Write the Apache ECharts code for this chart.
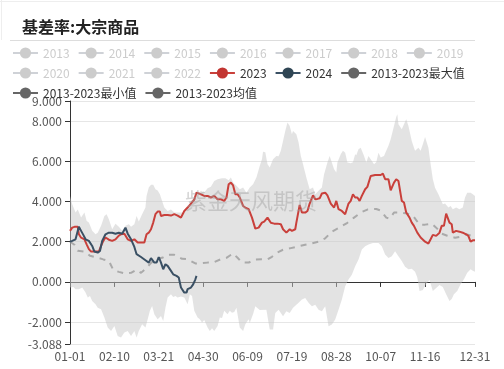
<!DOCTYPE html>
<html><head><meta charset="utf-8">
<script src="https://cdn.jsdelivr.net/npm/echarts@6/dist/echarts.min.js"></script>
<style>html,body{margin:0;padding:0;background:#fff}#c{width:504px;height:369px}</style>
</head><body><div id="c"></div>
<script>
// ---- categories (leap-year calendar, MM-DD) ----
const monthDays = [31,29,31,30,31,30,31,31,30,31,30,31];
const categories = [];
for (let m = 0; m < 12; m++) for (let d = 1; d <= monthDays[m]; d++)
  categories.push(String(m + 1).padStart(2, '0') + '-' + String(d).padStart(2, '0'));

const hiddenYears = ['2013','2014','2015','2016','2017','2018','2019','2020','2021','2022'];
const yAxisMin = -3.088, yAxisMax = 9;

// ---- series values: [dayIndex, value] ----
const s2023 = [[0,2.54],[2,2.7],[4,2.74],[7,2.74],[8,2.37],[10,2.2],[13,2.12],[15,1.87],[17,1.63],[19,1.51],[26,1.51],[28,1.8],[30,2.04],[32,2.21],[35,2.1],[38,2.04],[41,2.12],[44,2.3],[46,2.37],[49,2.4],[52,2.12],[55,2.04],[58,2.12],[61,1.96],[67,1.96],[69,2.37],[71,2.45],[73,2.62],[75,2.95],[77,3.37],[79,3.5],[81,3.5],[82,3.28],[85,3.33],[88,3.33],[91,3.3],[94,3.37],[97,3.3],[100,3.2],[103,3.53],[106,3.7],[109,3.9],[112,4.1],[114,4.44],[115,4.53],[118,4.36],[121,4.28],[124,4.28],[127,4.2],[130,4.28],[133,4.11],[136,4.11],[139,4.03],[141,4.2],[143,4.86],[145,4.94],[147,4.8],[149,4.36],[151,4.36],[153,4.2],[156,3.78],[158,3.7],[161,3.62],[164,3.2],[167,2.65],[170,2.7],[173,2.95],[175,3.0],[178,3.2],[181,2.94],[184,2.9],[187,2.9],[190,2.87],[192,2.62],[195,2.45],[198,2.62],[200,2.54],[203,2.62],[204,2.95],[207,3.83],[209,3.45],[212,3.45],[214,3.53],[216,3.9],[219,4.31],[221,4.11],[223,4.13],[225,4.16],[227,4.4],[230,4.44],[232,4.3],[235,3.9],[238,3.7],[240,4.03],[242,3.62],[245,3.53],[248,3.37],[251,3.9],[253,4.03],[255,4.36],[257,4.2],[259,4.2],[261,4.03],[263,4.28],[266,4.61],[268,4.73],[271,5.27],[275,5.32],[280,5.32],[282,5.39],[284,5.11],[287,5.11],[289,4.56],[292,4.94],[294,5.11],[296,5.02],[299,4.03],[301,3.95],[303,3.45],[306,3.2],[308,2.95],[310,2.79],[313,2.45],[316,2.21],[320,2.0],[323,1.91],[325,2.12],[327,2.34],[330,2.29],[333,2.45],[335,2.79],[337,2.79],[339,3.4],[342,2.95],[344,2.87],[345,2.45],[348,2.54],[351,2.5],[354,2.45],[357,2.37],[359,2.29],[361,2.0],[363,2.07],[365,2.07]];

const s2024 = [[0,2.0],[2,2.04],[5,2.12],[7,2.54],[8,2.74],[10,2.54],[12,2.34],[14,2.12],[17,2.04],[20,1.79],[22,1.51],[25,1.46],[27,1.54],[29,2.04],[32,2.37],[35,2.45],[38,2.45],[41,2.4],[44,2.45],[47,2.4],[50,2.7],[52,2.4],[55,2.12],[58,1.74],[60,1.38],[64,1.24],[68,1.08],[71,0.96],[73,1.18],[76,0.96],[78,0.96],[80,1.24],[82,0.96],[84,0.63],[86,0.88],[88,0.8],[91,0.55],[93,0.38],[96,0.3],[98,0.22],[100,-0.28],[103,-0.53],[105,-0.53],[106,-0.36],[109,-0.28],[111,-0.12],[113,0.13],[114,0.3]];

const sMean = [[0,2.0],[4,1.85],[7,1.55],[14,1.5],[18,1.3],[24,1.22],[30,1.12],[35,1.05],[39,0.6],[44,0.5],[50,0.42],[55,0.45],[60,0.6],[64,0.45],[69,0.7],[73,0.95],[78,1.15],[83,1.2],[88,1.35],[94,1.35],[101,1.15],[106,1.13],[113,0.92],[117,0.92],[124,0.96],[129,0.96],[136,1.13],[141,1.2],[147,1.42],[151,1.2],[155,0.96],[161,0.96],[167,1.12],[173,1.13],[178,1.12],[182,1.25],[187,1.47],[192,1.6],[198,1.67],[206,1.77],[212,1.85],[218,1.92],[224,2.0],[230,2.17],[236,2.5],[242,2.68],[250,2.94],[256,3.2],[262,3.45],[268,3.6],[276,3.63],[280,3.55],[285,3.2],[288,3.15],[292,3.45],[298,3.45],[304,3.4],[309,3.3],[315,2.85],[320,2.85],[326,2.9],[330,2.7],[335,2.4],[340,2.3],[347,2.2],[352,2.25],[357,2.37],[362,2.3],[365,2.2]];

const sMax = [[0,4.28],[2,3.86],[5,3.45],[7,3.6],[10,3.2],[13,3.45],[15,3.03],[17,2.95],[20,2.54],[23,2.37],[25,2.45],[28,2.79],[31,3.28],[33,3.37],[35,3.12],[38,2.62],[41,2.9],[44,2.75],[47,2.54],[50,2.79],[53,2.87],[55,2.74],[58,2.87],[60,3.28],[62,3.0],[65,3.37],[68,3.7],[69,4.28],[71,4.7],[73,4.83],[75,4.83],[77,4.61],[79,4.55],[81,4.36],[83,4.03],[85,3.7],[88,3.53],[91,3.6],[94,3.45],[100,3.45],[103,3.45],[106,3.7],[109,3.95],[112,4.2],[115,4.36],[118,4.53],[121,4.45],[124,4.66],[127,4.73],[130,5.02],[133,5.11],[137,5.16],[140,5.16],[143,5.06],[145,5.19],[147,4.94],[150,4.78],[153,4.61],[156,4.7],[159,4.44],[162,4.7],[165,4.86],[168,5.19],[171,5.77],[173,6.1],[174,6.48],[176,6.45],[178,5.85],[180,5.69],[183,6.1],[186,6.27],[188,6.25],[190,6.52],[192,7.01],[194,7.51],[196,7.93],[198,7.76],[200,7.35],[201,7.51],[204,7.35],[206,6.93],[208,6.27],[210,5.85],[213,5.19],[216,4.61],[219,4.7],[221,4.36],[224,4.53],[227,4.7],[229,5.36],[232,5.94],[234,6.27],[235,6.1],[238,5.6],[240,5.44],[241,5.94],[244,6.35],[246,6.52],[248,6.43],[250,5.94],[253,5.9],[255,5.95],[257,6.35],[258,6.3],[260,6.6],[262,6.68],[265,6.27],[267,5.94],[269,6.27],[271,6.1],[274,5.85],[276,5.95],[278,6.43],[280,6.19],[283,6.27],[285,6.52],[287,6.77],[289,7.1],[292,7.76],[294,8.2],[295,8.34],[296,7.84],[299,7.6],[301,7.84],[303,8.09],[305,7.76],[308,7.01],[310,6.68],[311,6.52],[314,6.68],[316,6.52],[318,6.85],[320,7.21],[323,6.68],[325,5.85],[327,5.11],[329,4.69],[332,4.36],[334,4.11],[336,3.86],[338,3.9],[341,3.7],[343,3.78],[345,3.62],[348,3.7],[351,3.62],[354,3.7],[356,4.2],[358,4.44],[361,4.44],[363,4.36],[365,4.28]];

const sMin = [[0,-0.28],[3,-0.25],[5,-0.36],[8,-0.36],[11,-0.28],[14,-0.53],[16,-0.78],[18,-0.7],[20,-0.95],[23,-1.11],[25,-1.28],[28,-1.36],[31,-1.77],[34,-2.27],[37,-2.44],[40,-2.19],[43,-2.69],[46,-2.77],[49,-2.52],[52,-2.44],[55,-2.69],[58,-2.44],[60,-2.77],[62,-2.44],[65,-2.11],[68,-2.27],[70,-1.86],[72,-1.44],[74,-1.2],[76,-1.61],[79,-1.86],[82,-1.69],[84,-1.94],[86,-1.28],[88,-0.78],[91,-0.61],[93,-0.75],[95,-0.7],[97,-0.78],[100,-0.72],[103,-0.78],[106,-1.11],[108,-0.61],[110,-0.7],[112,-1.44],[115,-1.77],[117,-1.86],[119,-2.02],[121,-1.9],[124,-2.27],[126,-2.44],[128,-2.3],[130,-2.44],[133,-2.19],[135,-1.77],[137,-1.8],[139,-1.44],[142,-1.61],[144,-1.44],[146,-1.53],[148,-1.5],[150,-1.28],[153,-2.27],[156,-2.44],[158,-2.11],[161,-1.86],[162,-2.04],[165,-1.6],[167,-1.21],[171,-1.4],[177,-1.38],[180,-2.37],[183,-2.37],[185,-1.54],[188,-1.38],[192,-1.71],[195,-1.46],[198,-1.54],[201,-1.29],[206,-1.04],[209,-0.88],[212,-0.8],[215,-1.04],[218,-1.21],[221,-1.13],[224,-1.38],[227,-1.46],[230,-1.21],[233,-2.2],[236,-2.12],[239,-1.87],[242,-1.38],[245,-0.88],[248,-0.22],[251,0.12],[254,0.36],[257,0.78],[260,1.11],[263,1.61],[266,1.77],[269,1.86],[273,1.94],[278,1.94],[281,1.77],[284,1.36],[287,1.19],[290,1.28],[293,1.53],[296,1.28],[299,1.04],[302,0.75],[305,0.63],[308,0.65],[311,0.5],[313,0.22],[315,-0.45],[318,-0.4],[321,-0.1],[324,0.1],[327,-0.45],[330,-0.3],[333,-0.15],[336,-0.25],[339,-0.61],[342,-0.95],[344,-0.85],[346,-0.61],[349,-0.45],[352,-0.12],[355,0.13],[358,0.46],[361,0.63],[363,0.55],[365,0.5]];

const NAME_MAX = '2013-2023最大值', NAME_MIN = '2013-2023最小值', NAME_MEAN = '2013-2023均值';
const FONT = "'Noto Sans CJK SC', 'Microsoft YaHei', sans-serif";

const labelShown = (i) => (i % 40 === 0 && i <= 320) || i === categories.length - 1;

const chart = echarts.init(document.getElementById('c'), null, {renderer: 'canvas'});

const series = [];
series.push({
  type: 'custom', name: 'band', xAxisIndex: 0, yAxisIndex: 0, silent: true, z: 1,
  data: [[0, 0]],
  renderItem: function (params, api) {
    const pts = [];
    for (let i = 0; i < sMax.length; i++) pts.push(api.coord(sMax[i]));
    for (let i = sMin.length - 1; i >= 0; i--) pts.push(api.coord(sMin[i]));
    return { type: 'polygon', shape: { points: pts }, style: { fill: 'rgba(200,200,200,0.5)' } };
  }
});
hiddenYears.forEach(y => series.push({ type: 'line', name: y, data: [], symbol: 'circle', showSymbol: false }));
series.push({ type: 'line', name: '2023', data: s2023, symbol: 'circle', showSymbol: false, z: 4,
  itemStyle: {color: '#c23531'}, lineStyle: {color: '#c9403b', width: 2} });
series.push({ type: 'line', name: '2024', data: s2024, symbol: 'circle', showSymbol: false, z: 5,
  itemStyle: {color: '#2f4554'}, lineStyle: {color: '#3a5064', width: 2} });
series.push({ type: 'line', name: NAME_MAX, data: sMax, symbol: 'circle', showSymbol: false, silent: true,
  itemStyle: {color: '#666'}, lineStyle: {color: '#666', width: 2, opacity: 0} });
series.push({ type: 'line', name: NAME_MIN, data: sMin, symbol: 'circle', showSymbol: false, silent: true,
  itemStyle: {color: '#666'}, lineStyle: {color: '#666', width: 2, opacity: 0} });
series.push({ type: 'line', name: NAME_MEAN, data: sMean, symbol: 'circle', showSymbol: false, z: 3,
  itemStyle: {color: '#666'}, lineStyle: {color: '#aaa', width: 2, type: [6, 6]} });

const legendData = hiddenYears.map(n => ({name: n}))
  .concat([{name: '2023'}, {name: '2024'}])
  .concat([NAME_MAX, NAME_MIN, NAME_MEAN].map(n => ({
    name: n, itemStyle: {color: '#666', opacity: 1},
    lineStyle: {color: '#666', opacity: 1, width: 2, type: 'solid'}
  })));
const selected = {};
hiddenYears.forEach(y => selected[y] = false);

chart.setOption({
  animation: false,
  backgroundColor: '#fff',
  title: {
    text: '基差率:大宗商品', left: 17, top: 14,
    textStyle: {fontSize: 16, fontWeight: 'bold', color: '#222', fontFamily: FONT}
  },
  legend: {
    left: 7, top: 42, right: 0,
    itemWidth: 25, itemHeight: 14, itemGap: 8,
    textStyle: {fontSize: 12, color: '#333', fontFamily: FONT, padding: [0, 4, 0, 0]},
    inactiveColor: '#ccc',
    data: legendData, selected: selected
  },
  grid: {left: 70, right: 29, top: 101, bottom: 25, containLabel: false},
  xAxis: [{
    type: 'category', data: categories, boundaryGap: false, position: 'top',
    axisLine: {onZero: true, lineStyle: {color: '#333'}},
    axisTick: {inside: true, length: 5, interval: labelShown, lineStyle: {color: '#333'}},
    axisLabel: {show: false}, splitLine: {show: false}
  }, {
    type: 'category', data: categories, boundaryGap: false, position: 'bottom',
    axisLine: {show: false, onZero: false}, axisTick: {show: false}, splitLine: {show: false},
    axisLabel: {interval: labelShown, margin: 6, color: '#555', fontSize: 12, fontFamily: FONT}
  }],
  yAxis: {
    type: 'value', min: yAxisMin, max: yAxisMax, splitNumber: 6,
    axisLine: {show: true, lineStyle: {color: '#333'}},
    axisTick: {show: true, length: 5, lineStyle: {color: '#333'}},
    axisLabel: {color: '#555', fontSize: 12, fontFamily: FONT, showMinLabel: true, showMaxLabel: true,
      formatter: v => v.toFixed(3)},
    splitLine: {lineStyle: {color: '#e6e6e6'}}
  },
  graphic: [
    {type: 'line', shape: {x1: 0, y1: 1.5, x2: 504, y2: 1.5}, style: {stroke: '#eee', lineWidth: 1}, silent: true},
    {type: 'line', shape: {x1: 1.5, y1: 0, x2: 1.5, y2: 40}, style: {stroke: '#eee', lineWidth: 1}, silent: true},
    {type: 'line', shape: {x1: 10, y1: 40.5, x2: 475, y2: 40.5}, style: {stroke: '#ddd', lineWidth: 1}, silent: true},
    {type: 'text', left: 185, top: 190, z: 100, silent: true,
      style: {text: '紫金天风期货', fill: 'rgba(160,160,160,0.45)', font: "22px 'Noto Sans CJK SC'"}}
  ],
  series: series
});
</script></body></html>
